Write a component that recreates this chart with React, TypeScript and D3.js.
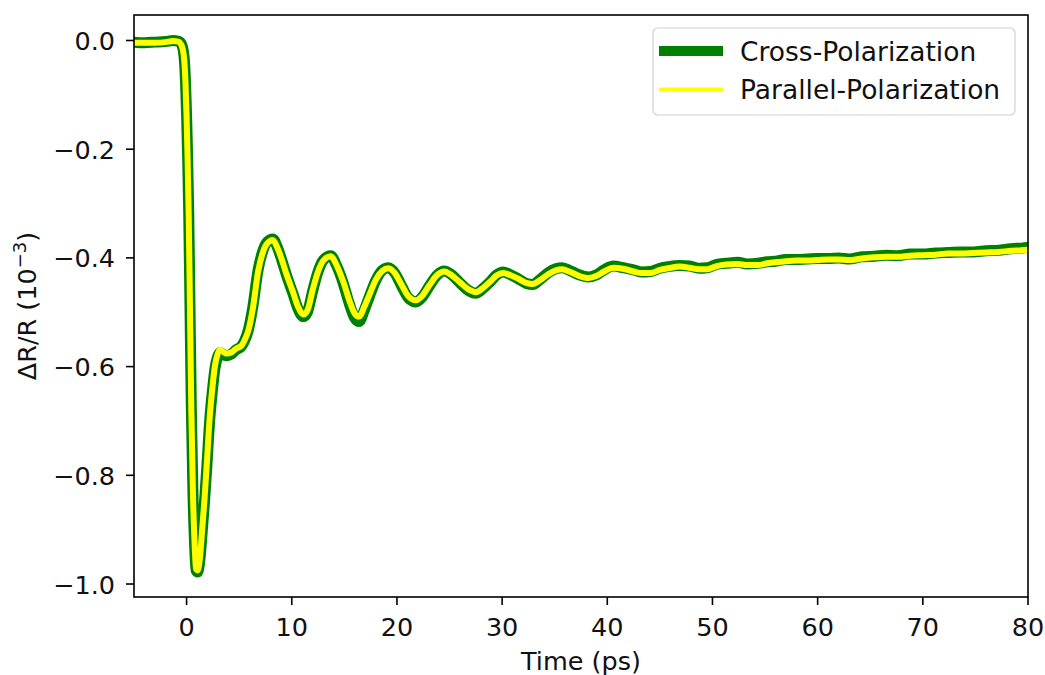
import React, { useEffect, useRef } from 'react';
import * as d3 from 'd3';

// time axis (ps)
const timePs = [
  -5, -4, -3, -2, -1.3, -0.8, -0.5, -0.25, -0.1, 0.0,
  0.1, 0.2, 0.3, 0.45, 0.6, 0.75, 0.9, 1.05, 1.25, 1.5,
  1.7, 1.95, 2.2, 2.45, 2.7, 2.95, 3.2, 3.5, 3.8, 4.25,
  4.7, 5.2, 5.5, 5.85, 6.3, 6.8, 7.2, 7.6, 8.2, 8.6,
  9.0, 9.5, 10.1, 10.6, 11.1, 11.5, 12.0, 12.5, 13.0, 13.7,
  14.3, 14.9, 15.5, 16.0, 16.4, 16.9, 17.4, 18.0, 18.6, 19.2,
  19.8, 20.4, 21.1, 21.8, 22.4, 23.1, 23.8, 24.5, 25.2, 26.0,
  26.8, 27.5, 28.2, 28.9, 29.5, 30.1, 30.8, 31.5, 32.3, 32.9,
  33.6, 34.4, 35.1, 35.7, 36.5, 37.3, 38.2, 39.0, 39.7, 40.6,
  41.5, 42.5, 43.3, 44.1, 45.0, 45.8, 46.9, 47.8, 48.7, 49.5,
  50.4, 51.3, 52.4, 53.3, 54.3, 55.2, 56.0, 57.0, 58.0, 59.0,
  60.0, 61.0, 62.0, 63.0, 64.2, 65.4, 66.5, 67.6, 68.8, 70.0,
  71.2, 72.4, 73.6, 74.8, 76.0, 77.2, 78.4, 79.4, 80.0,
];

// dR/R (1e-3), cross polarization
const crossPol = [
  -0.003, -0.004, -0.003, -0.002, 0.0, -0.001, -0.006, -0.028, -0.078, -0.138,
  -0.215, -0.315, -0.455, -0.675, -0.828, -0.922, -0.975, -0.978, -0.958, -0.9,
  -0.85, -0.776, -0.698, -0.645, -0.603, -0.582, -0.574, -0.578, -0.58, -0.577,
  -0.569, -0.563, -0.553, -0.534, -0.49, -0.422, -0.39, -0.372, -0.365, -0.379,
  -0.401, -0.432, -0.465, -0.494, -0.508, -0.499, -0.46, -0.425, -0.404, -0.396,
  -0.416, -0.447, -0.486, -0.511, -0.517, -0.496, -0.47, -0.441, -0.423, -0.418,
  -0.428, -0.45, -0.474, -0.481, -0.472, -0.451, -0.432, -0.424, -0.431, -0.446,
  -0.46, -0.465, -0.456, -0.443, -0.431, -0.426, -0.431, -0.438, -0.447, -0.449,
  -0.44, -0.427, -0.42, -0.418, -0.424, -0.431, -0.435, -0.431, -0.422, -0.415,
  -0.418, -0.422, -0.426, -0.425, -0.419, -0.416, -0.414, -0.415, -0.419, -0.418,
  -0.412, -0.41, -0.408, -0.411, -0.41, -0.407, -0.406, -0.403, -0.403, -0.402,
  -0.401, -0.401, -0.4, -0.402, -0.398, -0.397, -0.395, -0.396, -0.393, -0.393,
  -0.391, -0.39, -0.389, -0.389, -0.387, -0.386, -0.383, -0.382, -0.381,
];

// dR/R (1e-3), parallel polarization
const parallelPol = [
  -0.004, -0.004, -0.004, -0.003, -0.001, -0.002, -0.008, -0.03, -0.08, -0.14,
  -0.22, -0.32, -0.46, -0.68, -0.83, -0.92, -0.972, -0.975, -0.955, -0.895,
  -0.845, -0.77, -0.693, -0.64, -0.598, -0.577, -0.569, -0.573, -0.576, -0.574,
  -0.567, -0.562, -0.552, -0.535, -0.493, -0.425, -0.393, -0.375, -0.367, -0.38,
  -0.4, -0.43, -0.462, -0.49, -0.504, -0.496, -0.458, -0.425, -0.405, -0.397,
  -0.415, -0.444, -0.48, -0.503, -0.508, -0.49, -0.467, -0.44, -0.424, -0.419,
  -0.428, -0.448, -0.471, -0.478, -0.47, -0.45, -0.432, -0.425, -0.432, -0.445,
  -0.458, -0.463, -0.455, -0.443, -0.432, -0.428, -0.432, -0.438, -0.446, -0.448,
  -0.441, -0.43, -0.423, -0.421, -0.426, -0.433, -0.437, -0.433, -0.425, -0.418,
  -0.42, -0.425, -0.428, -0.428, -0.422, -0.419, -0.416, -0.418, -0.421, -0.421,
  -0.415, -0.412, -0.411, -0.413, -0.413, -0.41, -0.408, -0.406, -0.405, -0.405,
  -0.404, -0.403, -0.403, -0.404, -0.401, -0.399, -0.398, -0.398, -0.396, -0.395,
  -0.394, -0.392, -0.392, -0.391, -0.39, -0.389, -0.387, -0.386, -0.385,
];

const xTicks = [0, 10, 20, 30, 40, 50, 60, 70, 80];
const yTicks = [0, -0.2, -0.4, -0.6, -0.8, -1.0];
const seriesNames = ['Cross-Polarization', 'Parallel-Polarization'];

const W = 1045;
const H = 675;
const FONT = 'DejaVu Sans';

export default function App() {
  const svgRef = useRef<SVGSVGElement>(null);

  useEffect(() => {
    const svg = d3.select(svgRef.current);
    svg.selectAll('*').remove();

    const left = 134, right = 1028, top = 15, bottom = 597;

    const x = d3.scaleLinear().domain([-5, 80]).range([left, right]);
    const y = d3.scaleLinear().domain([-1.0239, 0.0469]).range([bottom, top]);

    svg.append('defs').append('clipPath').attr('id', 'plotclip')
      .append('rect')
      .attr('x', left).attr('y', top)
      .attr('width', right - left).attr('height', bottom - top);

    const line = d3.line<[number, number]>()
      .x(d => x(d[0]))
      .y(d => y(d[1]))
      .curve(d3.curveMonotoneX);

    const crossData = timePs.map((t, i) => [t, crossPol[i]] as [number, number]);
    const parData = timePs.map((t, i) => [t, parallelPol[i]] as [number, number]);

    const plot = svg.append('g').attr('clip-path', 'url(#plotclip)');
    plot.append('path')
      .attr('d', line(crossData))
      .attr('fill', 'none')
      .attr('stroke', 'green')
      .attr('stroke-width', 11)
      .attr('stroke-linejoin', 'round')
      .attr('stroke-linecap', 'round');
    plot.append('path')
      .attr('d', line(parData))
      .attr('fill', 'none')
      .attr('stroke', 'yellow')
      .attr('stroke-width', 6)
      .attr('stroke-linejoin', 'round')
      .attr('stroke-linecap', 'round');

    // axes frame
    svg.append('rect')
      .attr('x', left).attr('y', top)
      .attr('width', right - left).attr('height', bottom - top)
      .attr('fill', 'none')
      .attr('stroke', 'black')
      .attr('stroke-width', 1.6);

    // x ticks
    const xg = svg.append('g');
    xTicks.forEach(t => {
      xg.append('line')
        .attr('x1', x(t)).attr('x2', x(t))
        .attr('y1', bottom).attr('y2', bottom + 8)
        .attr('stroke', 'black').attr('stroke-width', 1.6);
      xg.append('text')
        .attr('x', x(t)).attr('y', 636)
        .attr('text-anchor', 'middle')
        .attr('font-family', FONT).attr('font-size', 25.5)
        .attr('fill', '#111')
        .text(d3.format('d')(t));
    });

    // y ticks
    const yg = svg.append('g');
    yTicks.forEach(t => {
      yg.append('line')
        .attr('x1', left - 8).attr('x2', left)
        .attr('y1', y(t)).attr('y2', y(t))
        .attr('stroke', 'black').attr('stroke-width', 1.6);
      yg.append('text')
        .attr('x', 115).attr('y', y(t) + 9.5)
        .attr('text-anchor', 'end')
        .attr('font-family', FONT).attr('font-size', 25.5)
        .attr('fill', '#111')
        .text(d3.format('.1f')(t).replace('-', '\u2212'));
    });

    // axis labels
    svg.append('text')
      .attr('x', (left + right) / 2).attr('y', 670)
      .attr('text-anchor', 'middle')
      .attr('font-family', FONT).attr('font-size', 25.5)
      .attr('fill', '#111')
      .text('Time (ps)');

    const yl = svg.append('text')
      .attr('transform', `translate(36, ${(top + bottom) / 2}) rotate(-90)`)
      .attr('text-anchor', 'middle')
      .attr('font-family', FONT).attr('font-size', 25.5)
      .attr('fill', '#111');
    yl.append('tspan').text('\u0394R/R (10');
    yl.append('tspan').attr('font-size', 18).attr('dy', -10).text('\u22123');
    yl.append('tspan').attr('dy', 10).text(')');

    // legend
    const lg = svg.append('g');
    lg.append('rect')
      .attr('x', 653).attr('y', 28)
      .attr('width', 362).attr('height', 87)
      .attr('rx', 5)
      .attr('fill', 'white').attr('fill-opacity', 0.8)
      .attr('stroke', '#d0d0d0').attr('stroke-width', 1.2);
    const legendItems = [
      { name: seriesNames[0], color: 'green', width: 10, y: 51 },
      { name: seriesNames[1], color: 'yellow', width: 4, y: 89.5 },
    ];
    legendItems.forEach(it => {
      lg.append('line')
        .attr('x1', 659).attr('x2', 723)
        .attr('y1', it.y).attr('y2', it.y)
        .attr('stroke', it.color).attr('stroke-width', it.width);
      lg.append('text')
        .attr('x', 740).attr('y', it.y + 9.5)
        .attr('font-family', FONT).attr('font-size', 26.5)
        .attr('fill', '#111')
        .text(it.name);
    });
  }, []);

  return (
    <div style={{ position: 'absolute', left: 0, top: 0, width: W, height: H, background: 'white' }}>
      <svg ref={svgRef} width={W} height={H} />
    </div>
  );
}
